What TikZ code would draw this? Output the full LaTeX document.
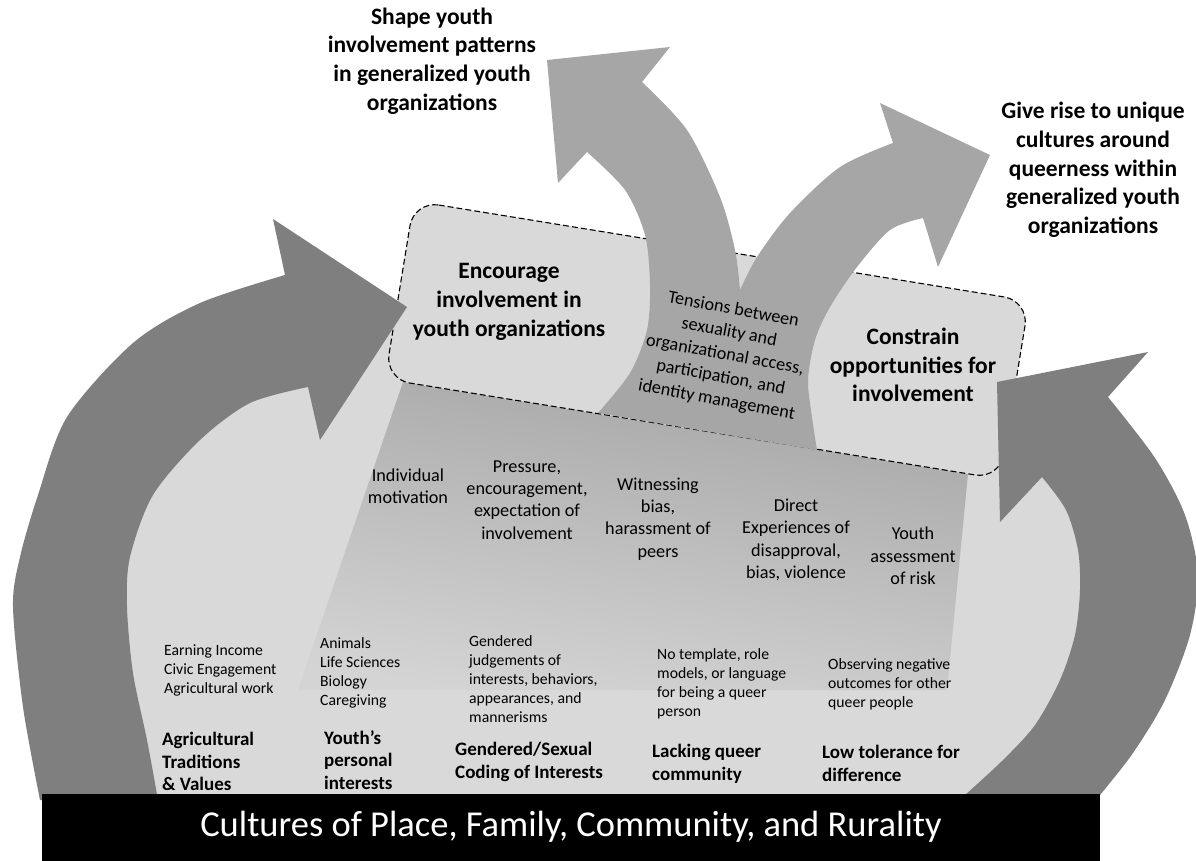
\documentclass[tikz,border=0pt]{standalone}
\usepackage{fontspec}
\setmainfont{Carlito}
\usetikzlibrary{positioning}
\definecolor{darkarrow}{HTML}{7F7F7F}
\definecolor{midarrow}{HTML}{A6A6A6}
\definecolor{lightfill}{HTML}{D9D9D9}
\definecolor{fadefill}{HTML}{D4D4D4}
\tikzset{x=1pt,y=-1pt}
\tikzset{
    boxline/.style={draw=black,fill=lightfill,line width=1.1pt,dash pattern=on 6pt off 3pt,rounded corners=25pt},
    headtxt/.style={font=\fontsize{23.5}{28.7}\selectfont\bfseries,align=center,inner sep=0pt},
    midtxt/.style={font=\fontsize{18.2}{22.3}\selectfont,align=center,inner sep=0pt},
    slanttxt/.style={font=\fontsize{18.2}{23}\selectfont,align=center,inner sep=0pt,rotate=-10.5},
    smalltxt/.style={font=\fontsize{15.7}{19}\selectfont,align=left,anchor=north west,inner sep=0pt},
    labeltxt/.style={font=\fontsize{19}{22.5}\selectfont\bfseries,align=left,anchor=north west,inner sep=0pt},
    band/.style={fill=black,text=white,minimum width=1058pt,minimum height=67pt,inner sep=0pt,
        font=\fontsize{36.5}{40}\selectfont}
}
\begin{document}
\begin{tikzpicture}
\useasboundingbox (0,0) rectangle (1196,860);

% light ground between the two big arrows
\fill[lightfill] (100,800) -- (80,550) -- (150,420) -- (300,300) -- (380,310) -- (420,300)
    -- (980,400) -- (1010,430) -- (1085,440) -- (1130,550) -- (1060,800) -- cycle;
\shade[top color=midarrow,bottom color=fadefill,shading angle=-9] (403,382) -- (968,474) -- (947,690) -- (298,690) -- cycle;

% the dashed box
\draw[boxline] (414,201) -- (1029,301) -- (1000,479) -- (385,379) -- cycle;

% trunk splitting into the two upward arrows
\fill[midarrow] plot[smooth] coordinates {(598,413) (630,373) (647,330) (650,285) (645,235) (625,190) (587,152)}
    -- (558,183) -- (547,60) -- (670,47)
    -- plot[smooth] coordinates {(642,82) (687,130) (720,197) (735,250) (740,290)}
    -- plot[smooth] coordinates {(740,290) (757,257) (790,213) (840,167) (893,143)}
    -- (880,103) -- (990,155) -- (938,267)
    -- plot[smooth] coordinates {(923,218) (890,230) (857,267) (830,307) (815,340) (808,380) (812,417) (817,450)}
    -- cycle;

% big side arrows
\fill[darkarrow] plot[smooth] coordinates {(40,800) (23,707) (13,607) (20,557) (38,495) (67,417) (133,343) (200,303) (285,275)}
    -- (273,219) -- (407,307) -- (320,440)
    -- plot[smooth] coordinates {(308,387) (250,403) (200,440) (153,495) (130,557) (127,607) (133,673) (147,740) (158,800)}
    -- cycle;
\fill[darkarrow] plot[smooth] coordinates {(1100,795) (1133,753) (1165,700) (1190,635) (1198,575) (1185,515) (1155,458) (1108,397)}
    -- (1148,352) -- (997,382) -- (1000,522)
    -- plot[smooth] coordinates {(1042,477) (1066,510) (1078,550) (1080,590) (1075,635) (1060,680) (1035,725) (1003,760) (965,795)}
    -- cycle;

\node[band] (culture) at (571,827) {Cultures of Place, Family, Community, and Rurality};

\node[headtxt] (shape) at (432,61) {Shape youth\\involvement patterns\\in generalized youth\\organizations};
\node[headtxt] (rise) at (1093,170) {Give rise to unique\\cultures around\\queerness within\\generalized youth\\organizations};
\node[headtxt] (encourage) at (509,302) {Encourage\\involvement in\\youth organizations};
\node[headtxt] (constrain) at (913,365) {Constrain\\opportunities for\\involvement};
\node[slanttxt] (tension) at (725,355) {Tensions between\\sexuality and\\organizational access,\\participation, and\\identity management};

\node[midtxt] (motive) at (408,486) {Individual\\motivation};
\node[midtxt] (pressure) at (527,500) {Pressure,\\encouragement,\\expectation of\\involvement};
\node[midtxt] (witness) at (658,519) {Witnessing\\bias,\\harassment of\\peers};
\node[midtxt] (direct) at (796,540) {Direct\\Experiences of\\disapproval,\\bias, violence};
\node[midtxt] (risk) at (913,556) {Youth\\assessment\\of risk};

\node[smalltxt] (income) at (164,644) {Earning Income\\Civic Engagement\\Agricultural work};
\node[smalltxt] (hobby) at (320,637) {Animals\\Life Sciences\\Biology\\Caregiving};
\node[smalltxt] (judge) at (469,635) {Gendered\\judgements of\\interests, behaviors,\\appearances, and\\mannerisms};
\node[smalltxt] (template) at (657,648) {No template, role\\models, or language\\for being a queer\\person};
\node[smalltxt] (outcome) at (828,658) {Observing negative\\outcomes for other\\queer people};

\node[labeltxt] (agri) at (162,732) {Agricultural\\Traditions\\\& Values};
\node[labeltxt] (interest) at (324,730) {Youth’s\\personal\\interests};
\node[labeltxt] (coding) at (455,742) {Gendered/Sexual\\Coding of Interests};
\node[labeltxt] (lacking) at (652,744) {Lacking queer\\community};
\node[labeltxt] (tolerance) at (822,745) {Low tolerance for\\difference};
\end{tikzpicture}
\end{document}
